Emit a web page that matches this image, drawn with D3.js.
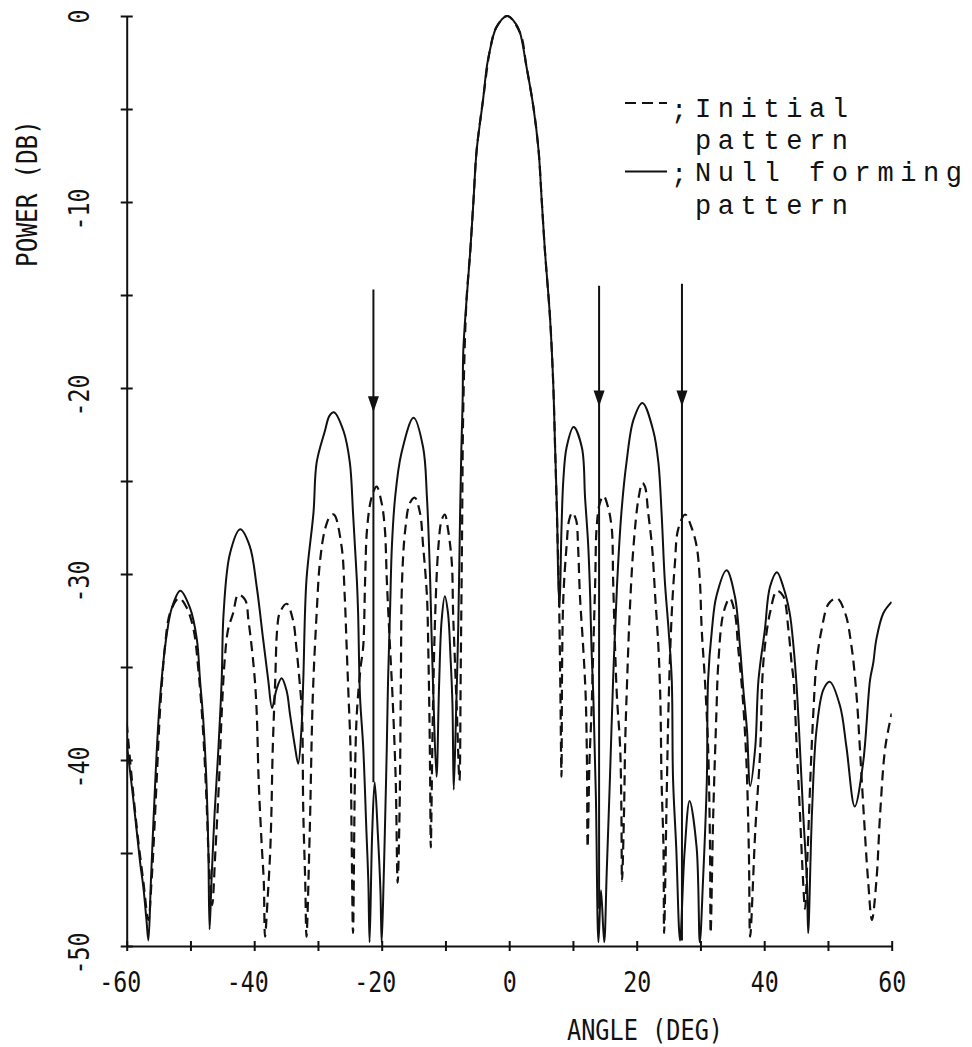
<!DOCTYPE html>
<html><head><meta charset="utf-8">
<script src="https://cdn.jsdelivr.net/npm/d3@7"></script>
<style>
body{margin:0;background:#fff}
svg{display:block}
</style></head><body>
<svg id="c" width="972" height="1047"></svg>
<script>
// ---------------- data ----------------
const xTickValues = [-60,-50,-40,-30,-20,-10,0,10,20,30,40,50,60];
const xTickLabels = {"-60":"-60","-40":"-40","-20":"-20","0":"0","20":"20","40":"40","60":"60"};
const yTickValues = [0,-5,-10,-15,-20,-25,-30,-35,-40,-45,-50];
const yTickLabels = {"0":"0","-10":"-10","-20":"-20","-30":"-30","-40":"-40","-50":"-50"};
const xTitle = "ANGLE (DEG)";
const yTitle = "POWER (DB)";
const legendLabels = [["Initial","pattern"],["Null forming","pattern"]];

// null directions (deg) with arrow top, tip and lower end (dB)
const nullAngles = [-21.3, 14.1, 27.1];
const arrowTopDb = [-14.7, -14.5, -14.4];
const arrowTipDb = [-21.3, -21.0, -21.0];
const arrowEndDb = [-41.2, -48.0, -49.7];

// Initial pattern (dashed): [angle deg, power dB]
const initialPattern = [
[-60,-38],[-59.2,-41],[-58.3,-44],[-57.4,-46.5],[-56.6,-48.6],[-56.1,-46.5],[-55.8,-44.7],[-55.3,-41.1],
[-54.8,-37.5],[-54.4,-35.5],[-54,-33.9],[-53.2,-32.1],[-51.8,-31.3],[-50.6,-31.8],[-49.5,-33],[-48.8,-35],
[-48.1,-38],[-47.5,-42],[-47.1,-45.5],[-46.6,-47.8],[-46.1,-45],[-45.5,-41],[-45.1,-37.5],[-44.6,-34.5],
[-44.1,-33],[-43.3,-32.1],[-42.5,-31.1],[-41.4,-31.4],[-40.9,-32.5],[-40.4,-33.9],[-39.9,-35.7],[-39.6,-37.5],
[-39.3,-41.1],[-38.8,-44.7],[-38.5,-46.5],[-38.3,-49.5],[-37.9,-47.5],[-37.5,-45],[-37.3,-42.8],[-37.1,-39.5],
[-36.7,-35.7],[-36.4,-33],[-36.0,-32.1],[-34.9,-31.6],[-33.9,-32.5],[-33.4,-33.9],[-32.8,-36.1],[-32.5,-37.5],
[-32.3,-42.8],[-32.0,-46.5],[-31.8,-49.5],[-31.3,-44],[-30.8,-36.5],[-30.2,-32.1],[-29.7,-29.4],[-28.9,-27.6],
[-28.1,-26.9],[-27.5,-26.8],[-26.3,-28.5],[-25.8,-31.2],[-25.5,-33.9],[-25.2,-36.6],[-24.9,-39.3],[-24.7,-44.7],
[-24.5,-49.3],[-24.2,-41],[-23.9,-37.5],[-23.3,-35],[-22.9,-33.9],[-22.6,-30.3],[-22.3,-27.6],[-21.6,-25.9],
[-20.8,-25.3],[-20.0,-26.2],[-19.5,-27.6],[-19.2,-30.3],[-18.7,-33.9],[-18.3,-36.6],[-17.8,-41.1],[-17.5,-46.6],
[-17.2,-42.8],[-17.0,-36],[-16.8,-30.3],[-16.3,-27.6],[-15.6,-26.2],[-14.8,-25.9],[-14.0,-26.7],[-13.5,-28.5],
[-12.9,-31.2],[-12.7,-33.9],[-12.5,-38],[-12.4,-41],[-12.3,-44.7],[-12.0,-38],[-11.6,-32.1],[-11.1,-28.5],
[-10.6,-27.1],[-10.1,-26.8],[-9.6,-27.6],[-9.0,-29.4],[-8.8,-32.1],[-8.5,-34.8],[-8.2,-37.5],[-7.8,-41.1],
[-7.6,-35],[-7.4,-28],[-7.2,-21],[-6.7,-15.3],[-6.1,-12.6],[-5.6,-9.9],[-5.1,-7.2],[-4.1,-4.5],[-3.0,-1.8],
[-2.0,-0.6],[-0.3,0],[1.7,-0.9],[2.7,-2.7],[3.8,-4.9],[4.6,-7.2],[5.1,-9.9],[5.6,-12.6],[6.4,-16.2],[6.9,-19.7],
[7.2,-23.2],[7.5,-27],[7.8,-31],[8.0,-35.5],[8.2,-40.9],[8.3,-34.8],[8.5,-31.2],[9.0,-28.5],[9.4,-27.1],
[9.9,-26.7],[10.5,-27.1],[10.8,-28.5],[11.1,-31.2],[11.6,-33.9],[12.0,-36.6],[12.2,-40.2],[12.3,-44.7],
[12.6,-40],[12.9,-37.5],[13.2,-33.9],[13.5,-30.3],[13.7,-27.6],[14.2,-26.2],[14.8,-25.8],[15.5,-26.4],
[16.1,-27.6],[16.3,-30.3],[16.6,-33.9],[16.9,-36.6],[17.4,-39.3],[17.6,-42.8],[17.7,-46.5],[18.0,-43],
[18.2,-39],[18.5,-35.7],[18.9,-32.1],[19.5,-28.5],[20.3,-25.9],[20.9,-25.1],[21.3,-25.3],[21.8,-26.7],
[22.4,-28.5],[22.9,-31.2],[23.4,-33.9],[23.7,-36.6],[23.9,-41.1],[24.2,-44.7],[24.3,-49.3],[24.7,-42],
[25.0,-37],[25.5,-32.1],[26.0,-29.4],[26.5,-27.6],[27.6,-26.8],[28.6,-27.5],[29.4,-28.5],[29.9,-30.3],
[30.2,-33],[30.7,-35.7],[31.2,-39.3],[31.5,-44.7],[31.6,-49.3],[32.0,-43],[32.5,-37.5],[32.8,-34.8],
[33.6,-32.1],[34.6,-31.3],[35.4,-32.1],[35.9,-33.9],[36.6,-36.5],[37.2,-40],[37.6,-45],[37.8,-49.5],
[38.6,-43.8],[39.4,-39.3],[39.7,-35.7],[40.1,-33.9],[40.9,-32.1],[42.0,-30.9],[43.0,-31.2],[43.8,-33],
[44.3,-34.8],[44.6,-35.7],[45.1,-39.3],[45.6,-42.8],[46.1,-46.5],[46.4,-48],[46.8,-45],[47.3,-40.5],
[47.7,-37.5],[48.2,-34.8],[49.0,-33],[50.1,-31.6],[51.4,-31.3],[52.7,-32.1],[53.7,-33.9],[54.5,-36.6],
[55.0,-39.3],[55.6,-42.8],[56.3,-46.5],[56.9,-48.6],[57.6,-46.5],[58.2,-42.8],[59.0,-39.3],[60,-37.5]
];

// Null forming pattern (solid): [angle deg, power dB]
const nullFormingPattern = [
[-60,-39.1],[-59,-42],[-57.9,-45.5],[-57.4,-46.8],[-56.9,-48.6],[-56.6,-49.7],[-56.2,-46.5],[-55.5,-41],
[-54.8,-36.8],[-53.7,-33.2],[-52.9,-31.8],[-51.6,-30.9],[-50.1,-31.8],[-49,-33.5],[-48.5,-35.7],[-48,-37.8],
[-47.5,-41.1],[-47.2,-44.7],[-47.0,-49.1],[-46.7,-46.5],[-46.2,-42.8],[-45.6,-39.3],[-45.1,-35.7],[-44.8,-32.1],
[-43.8,-28.9],[-42.2,-27.6],[-40.7,-28.5],[-39.6,-30.7],[-38.6,-33.5],[-37.8,-35.7],[-37.2,-37.2],[-36.5,-36.2],
[-35.7,-35.6],[-34.9,-36.3],[-34.4,-37.5],[-33.6,-39.3],[-33.1,-40.2],[-32.6,-38.4],[-32.3,-35.7],[-31.8,-30.3],
[-30.7,-26.7],[-30.2,-24],[-28.9,-22.3],[-28.2,-21.5],[-27.5,-21.3],[-26.0,-22.3],[-25.0,-24],[-24.5,-26.7],
[-24.2,-28.5],[-23.9,-30.3],[-23.7,-32.1],[-23.4,-36.6],[-22.9,-39.3],[-22.4,-43.8],[-22.1,-46.5],[-21.9,-49.8],
[-21.5,-44],[-21.1,-41.2],[-20.6,-44],[-20.2,-47],[-20.0,-49.8],[-19.7,-46.5],[-19.5,-43.8],[-19.2,-39.3],
[-19.0,-35.7],[-18.7,-32.1],[-18.4,-28.5],[-17.9,-25.9],[-16.9,-23.5],[-15.0,-21.6],[-13.5,-23.2],[-12.9,-25.9],
[-12.4,-30.3],[-12.2,-33],[-11.9,-36.5],[-11.4,-40.9],[-11.0,-36],[-10.6,-32.5],[-10.1,-31.2],[-9.6,-32.1],
[-9.2,-34.5],[-8.9,-37],[-8.7,-41.6],[-8.3,-37],[-8.0,-33],[-7.7,-26.7],[-7.5,-23.2],[-7.3,-20.6],[-7.2,-18],
[-6.7,-15.3],[-6.1,-12.6],[-5.6,-9.9],[-5.1,-7.2],[-4.1,-4.5],[-3.5,-2.7],[-3.0,-1.8],[-2.0,-0.6],[-0.3,0],
[1.0,-0.4],[1.7,-0.9],[2.7,-2.7],[3.8,-4.9],[4.6,-7.2],[5.1,-9.9],[5.6,-12.6],[6.4,-16.2],[6.9,-19.7],
[7.2,-23.2],[7.5,-26.7],[7.7,-30.3],[7.9,-31.8],[8.2,-27.6],[8.5,-24.9],[9.0,-23.2],[10.1,-22.1],[11.4,-23.2],
[11.9,-25.9],[12.4,-28.5],[12.7,-31.2],[12.9,-33.9],[13.2,-36.6],[13.6,-42],[14.0,-49.8],[14.4,-47],[14.9,-49.8],
[15.3,-46],[15.8,-41],[16.3,-35.7],[16.9,-30.7],[17.6,-26.7],[18.4,-24],[19.5,-21.7],[20.9,-20.8],[22.6,-22.3],
[23.4,-24],[23.9,-26.7],[24.4,-30.3],[25.0,-33],[25.5,-35.7],[25.7,-41],[26.2,-44.7],[26.8,-49.7],[27.5,-45],
[28.3,-42.2],[29.4,-44.7],[29.9,-49.8],[30.4,-46.5],[31.0,-41.1],[31.2,-35.7],[31.8,-33],[32.5,-31.2],
[34.1,-29.8],[35.4,-31.2],[36.2,-33.9],[36.7,-36.1],[37.3,-38.4],[37.8,-41.4],[38.6,-39.3],[39.1,-35.7],
[40.1,-33],[40.9,-30.7],[42.0,-29.9],[43.0,-30.7],[44.0,-32.1],[44.6,-33.9],[45.1,-36.1],[45.6,-39.3],
[46.1,-42.8],[46.7,-46.5],[46.9,-49.3],[47.5,-42.8],[48.2,-38.4],[49.3,-36.2],[50.3,-35.8],[51.9,-37.1],
[52.9,-39.3],[54.2,-42.5],[55.5,-40.2],[56.6,-35.7],[57.1,-34.8],[57.6,-33.5],[58.7,-32.1],[60,-31.5]
];

// ---------------- drawing ----------------
const svg = d3.select("#c");
const x = d3.scaleLinear().domain([-60,60]).range([126.7,891.7]);
const y = d3.scaleLinear().domain([0,-50]).range([16,946]);
const ink = "#111";
const plotFont = "'DejaVu Sans Mono', monospace";
const typeFont = "'Liberation Mono', 'Courier New', monospace";
const charW = 14;
const labelSize = 28;

svg.append("rect").attr("width",972).attr("height",1047).attr("fill","#fff");

svg.append("defs").append("clipPath").attr("id","plotclip")
  .append("rect").attr("x",x(-60)).attr("y",y(0)-4).attr("width",x(60)-x(-60)).attr("height",y(-50)-y(0)+4);

// X axis
const xAxis = d3.axisBottom(x).tickValues(xTickValues).tickSize(0).tickFormat(d => "");
const gx = svg.append("g").attr("transform",`translate(0,${y(-50)})`).call(xAxis);
gx.select(".domain").attr("stroke",ink).attr("stroke-width",2);
gx.selectAll(".tick line").attr("y1",-5).attr("y2",5).attr("stroke",ink).attr("stroke-width",2);
gx.selectAll(".tick").each(function(d){
  const lab = xTickLabels[String(d)];
  if(!lab) return;
  const digits = lab.replace("-","").length;
  d3.select(this).append("text")
    .attr("x", digits*charW/2).attr("y", 46)
    .attr("text-anchor","end")
    .attr("textLength", lab.length*charW).attr("lengthAdjust","spacingAndGlyphs")
    .attr("fill",ink).attr("font-family",plotFont).attr("font-size",labelSize)
    .text(lab);
});

// Y axis
const yAxis = d3.axisLeft(y).tickValues(yTickValues).tickSize(0).tickFormat(d => "");
const gy = svg.append("g").attr("transform",`translate(${x(-60)},0)`).call(yAxis);
gy.select(".domain").attr("stroke",ink).attr("stroke-width",2);
gy.selectAll(".tick line").attr("x1",-6).attr("x2",6).attr("stroke",ink).attr("stroke-width",2);
gy.selectAll(".tick").each(function(d){
  const lab = yTickLabels[String(d)];
  if(!lab) return;
  const digits = lab.replace("-","").length;
  d3.select(this).append("text")
    .attr("transform",`translate(-38,0) rotate(-90)`)
    .attr("x", digits*charW/2).attr("y", 0)
    .attr("text-anchor","end")
    .attr("textLength", lab.length*charW).attr("lengthAdjust","spacingAndGlyphs")
    .attr("fill",ink).attr("font-family",plotFont).attr("font-size",labelSize)
    .text(lab);
});

// Axis titles
svg.append("text").attr("x",645).attr("y",1040).attr("text-anchor","middle")
  .attr("textLength",156).attr("lengthAdjust","spacingAndGlyphs")
  .attr("fill",ink).attr("font-family",plotFont).attr("font-size",labelSize).text(xTitle);
svg.append("text").attr("transform","translate(37,193.5) rotate(-90)").attr("text-anchor","middle")
  .attr("textLength",147).attr("lengthAdjust","spacingAndGlyphs")
  .attr("fill",ink).attr("font-family",plotFont).attr("font-size",labelSize).text(yTitle);

// Curves
const line = d3.line().x(d => x(d[0])).y(d => y(d[1])).curve(d3.curveCatmullRom.alpha(0.5));
const plot = svg.append("g").attr("clip-path","url(#plotclip)");
plot.append("path").datum(initialPattern).attr("d",line)
  .attr("fill","none").attr("stroke",ink).attr("stroke-width",2.2)
  .attr("stroke-dasharray","10,6").attr("stroke-linejoin","round");
plot.append("path").datum(nullFormingPattern).attr("d",line)
  .attr("fill","none").attr("stroke",ink).attr("stroke-width",2)
  .attr("stroke-linejoin","round");

// Arrows at null directions
nullAngles.forEach((a,i) => {
  const ax = x(a);
  svg.append("line").attr("x1",ax).attr("x2",ax)
    .attr("y1",y(arrowTopDb[i])).attr("y2",y(arrowEndDb[i]))
    .attr("stroke",ink).attr("stroke-width",2);
  const tip = y(arrowTipDb[i]);
  svg.append("path")
    .attr("d",`M${ax-5.5},${tip-16} L${ax+5.5},${tip-16} L${ax},${tip} Z`)
    .attr("fill",ink);
});

// Legend
const legX0 = 625, legX1 = 667, textX = 695;
const rowsY = [117, 149, 181, 214];
svg.append("line").attr("x1",legX0).attr("x2",legX1).attr("y1",103).attr("y2",103)
  .attr("stroke",ink).attr("stroke-width",2.2).attr("stroke-dasharray","11,6");
svg.append("line").attr("x1",legX0).attr("x2",legX1).attr("y1",171.5).attr("y2",171.5)
  .attr("stroke",ink).attr("stroke-width",2);
[0,2].forEach(ri => {
  svg.append("text").attr("x",671).attr("y",rowsY[ri]+2).attr("fill",ink)
    .attr("font-family",typeFont).attr("font-size",27).text(";");
});
const texts = [[legendLabels[0][0],0],[legendLabels[0][1],1],[legendLabels[1][0],2],[legendLabels[1][1],3]];
texts.forEach(([t,ri]) => {
  svg.append("text").attr("x",textX).attr("y",rowsY[ri]).attr("fill",ink)
    .attr("font-family",typeFont).attr("font-size",27).attr("letter-spacing","6.6px")
    .text(t);
});
</script>
</body></html>
